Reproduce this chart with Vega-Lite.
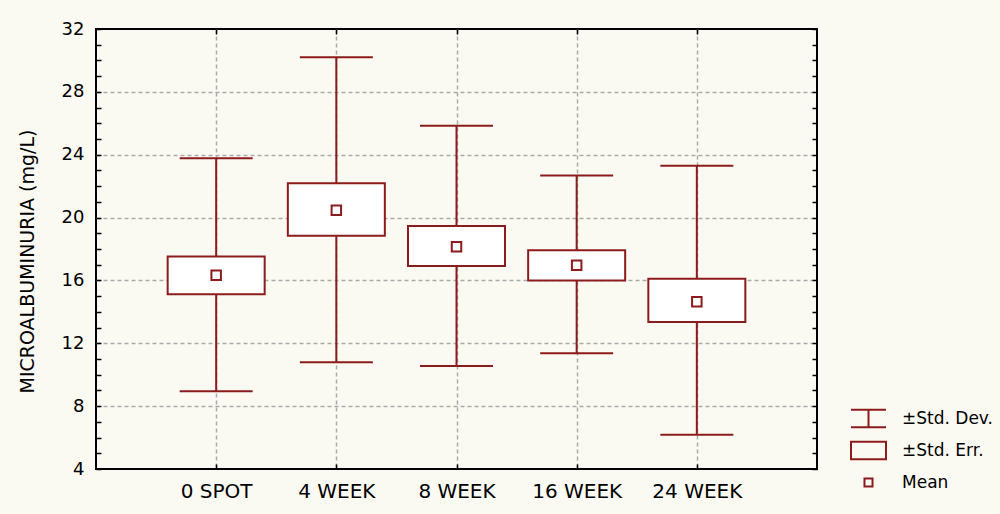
{
  "$schema": "https://vega.github.io/schema/vega-lite/v6.json",
  "width": 721,
  "height": 440,
  "autosize": {"type": "none"},
  "padding": {"left": 96, "top": 29, "right": 183, "bottom": 45},
  "background": "#fbfaf2",
  "data": {
    "values": [
      {"group": "0 SPOT", "mean": 16.33, "seLow": 15.12, "seHigh": 17.53, "sdLow": 8.95, "sdHigh": 23.77},
      {"group": "4 WEEK", "mean": 20.46, "seLow": 18.85, "seHigh": 22.18, "sdLow": 10.8, "sdHigh": 30.2},
      {"group": "8 WEEK", "mean": 18.15, "seLow": 16.92, "seHigh": 19.46, "sdLow": 10.55, "sdHigh": 25.85},
      {"group": "16 WEEK", "mean": 16.96, "seLow": 16.0, "seHigh": 17.92, "sdLow": 11.36, "sdHigh": 22.67},
      {"group": "24 WEEK", "mean": 14.65, "seLow": 13.35, "seHigh": 16.1, "sdLow": 6.18, "sdHigh": 23.3}
    ]
  },
  "layer": [
    {
      "mark": {"type": "rule", "color": "#8c1c1c", "strokeWidth": 2},
      "encoding": {
        "x": {
          "field": "group", "type": "nominal",
          "sort": ["0 SPOT", "4 WEEK", "8 WEEK", "16 WEEK", "24 WEEK"],
          "scale": {"type": "point", "padding": 1},
          "axis": {
            "orient": "bottom", "title": null, "labelAngle": 0, "grid": true,
            "tickSize": -5, "tickWidth": 1.5, "labelPadding": 17, "labelFontSize": 20
          }
        },
        "y": {
          "field": "sdLow", "type": "quantitative",
          "scale": {"domain": [4, 32], "nice": false, "zero": false},
          "axis": {
            "orient": "left",
            "title": "MICROALBUMINURIA (mg/L)",
            "values": [4,5,6,7,8,9,10,11,12,13,14,15,16,17,18,19,20,21,22,23,24,25,26,27,28,29,30,31,32],
            "labelExpr": "datum.value % 4 === 0 ? datum.label : ''",
            "labelOverlap": false,
            "labelFontSize": 18,
            "tickSize": -5, "tickWidth": 1.5, "labelPadding": 17,
            "grid": true,
            "gridOpacity": {"condition": {"test": "datum.value % 4 === 0 && datum.value > 4 && datum.value < 32", "value": 1}, "value": 0},
            "titleFontSize": 19, "titleFontWeight": "normal",
            "titleAngle": 270, "titleX": -69, "titleY": 232,
            "titleAlign": "center", "titleBaseline": "middle"
          }
        },
        "y2": {"field": "sdHigh"}
      }
    },
    {
      "mark": {"type": "tick", "color": "#8c1c1c", "opacity": 1, "orient": "horizontal", "size": 73, "thickness": 2},
      "encoding": {
        "x": {"field": "group", "type": "nominal", "sort": ["0 SPOT", "4 WEEK", "8 WEEK", "16 WEEK", "24 WEEK"], "axis": null},
        "y": {"field": "sdHigh", "type": "quantitative", "axis": null}
      }
    },
    {
      "mark": {"type": "tick", "color": "#8c1c1c", "opacity": 1, "orient": "horizontal", "size": 73, "thickness": 2},
      "encoding": {
        "x": {"field": "group", "type": "nominal", "sort": ["0 SPOT", "4 WEEK", "8 WEEK", "16 WEEK", "24 WEEK"], "axis": null},
        "y": {"field": "sdLow", "type": "quantitative", "axis": null}
      }
    },
    {
      "mark": {"type": "bar", "width": 97, "fill": "white", "stroke": "#8c1c1c", "strokeWidth": 2},
      "encoding": {
        "x": {"field": "group", "type": "nominal", "sort": ["0 SPOT", "4 WEEK", "8 WEEK", "16 WEEK", "24 WEEK"], "axis": null},
        "y": {"field": "seLow", "type": "quantitative", "axis": null},
        "y2": {"field": "seHigh"}
      }
    },
    {
      "mark": {"type": "point", "shape": "square", "size": 90, "filled": true, "fill": "white", "stroke": "#8c1c1c", "strokeWidth": 2, "opacity": 1},
      "encoding": {
        "x": {
          "field": "group", "type": "nominal", "sort": ["0 SPOT", "4 WEEK", "8 WEEK", "16 WEEK", "24 WEEK"],
          "axis": {"orient": "top", "title": null, "labels": false, "grid": false, "tickSize": -5, "tickWidth": 1.5}
        },
        "y": {
          "field": "mean", "type": "quantitative",
          "axis": {
            "orient": "right", "title": null, "labels": false, "grid": false,
            "values": [4,5,6,7,8,9,10,11,12,13,14,15,16,17,18,19,20,21,22,23,24,25,26,27,28,29,30,31,32],
            "tickSize": -5, "tickWidth": 1.5
          }
        }
      }
    },
    {
      "data": {"values": [{"item": "±Std. Dev."}, {"item": "±Std. Err."}, {"item": "Mean"}]},
      "mark": {"type": "point", "filled": false, "color": "#8c1c1c", "strokeWidth": 2, "opacity": 0},
      "encoding": {
        "shape": {
          "field": "item", "type": "nominal",
          "scale": {
            "domain": ["±Std. Dev.", "±Std. Err.", "Mean"],
            "range": ["M-1,-0.5H1M0,-0.5V0.5M-1,0.5H1", "M-1,-0.5H1V0.5H-1Z", "M-0.23,-0.23H0.23V0.23H-0.23Z"]
          },
          "legend": {
            "title": null, "orient": "none", "legendX": 754, "legendY": 371,
            "symbolSize": 1225, "symbolStrokeWidth": 2, "symbolOpacity": 1,
            "symbolStrokeColor": "#8c1c1c",
            "labelFont": "DejaVu Sans", "labelFontSize": 17, "labelColor": "#000",
            "labelOffset": 15, "rowPadding": 0, "padding": 0, "offset": 0
          }
        }
      }
    }
  ],
  "resolve": {"axis": {"x": "independent", "y": "independent"}},
  "config": {
    "view": {"stroke": "#000", "strokeWidth": 2, "fill": "white"},
    "axis": {
      "domain": false,
      "labelFont": "DejaVu Sans", "titleFont": "DejaVu Sans",
      "labelColor": "#000", "titleColor": "#000", "tickColor": "#000",
      "gridColor": "#aaaaaa", "gridDash": [4, 3], "gridWidth": 1.5
    }
  }
}
